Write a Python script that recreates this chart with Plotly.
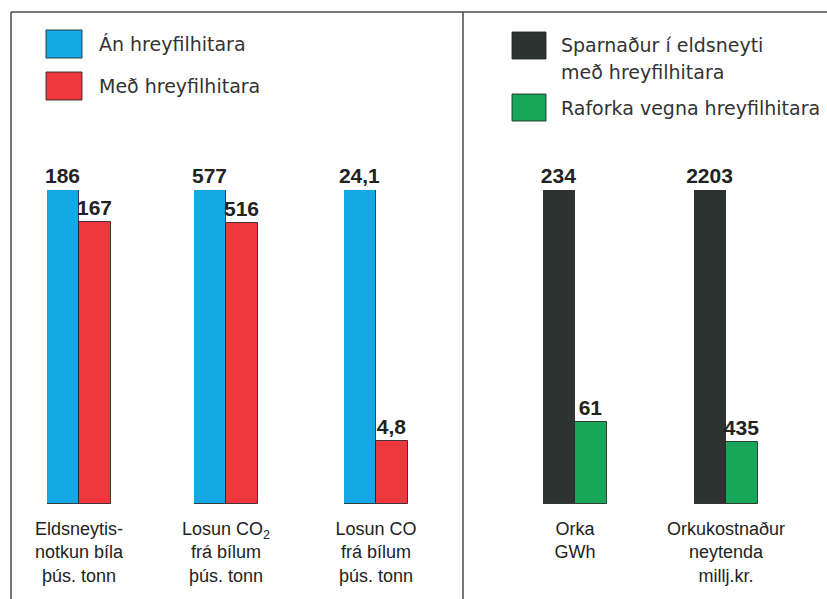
import plotly.graph_objects as go

# Data
categories = [
    "Eldsneytis-<br>notkun bíla<br>þús. tonn",
    "Losun CO<sub>2</sub><br>frá bílum<br>þús. tonn",
    "Losun CO<br>frá bílum<br>þús. tonn",
    "Orka<br>GWh",
    "Orkukostnaður<br>neytenda<br>millj.kr.",
]
an_hreyfilhitara = [186, 577, 24.1]
med_hreyfilhitara = [167, 516, 4.8]
sparnadur = [234, 2203]
raforka = [61, 435]

series_names = [
    "Án hreyfilhitara",
    "Með hreyfilhitara",
    "Sparnaður í eldsneyti<br>með hreyfilhitara",
    "Raforka vegna hreyfilhitara",
]

W, H = 827, 599
BLUE, RED, DARK, GREEN = "#14a8e6", "#ef383d", "#2d3331", "#17a65a"
EDGE = "rgba(35,35,35,0.85)"
TXT = "#222222"


def px(x):
    return x / W


def py(y):
    return 1 - y / H


# pixel spans of each bar pair, and the plotting band
group_spans = [(47, 111), (194, 258), (344, 408), (543, 607), (694, 758)]
bar_bottom, bar_top = 504, 190

pairs = [
    (an_hreyfilhitara[0], med_hreyfilhitara[0], BLUE, RED, 0, 1),
    (an_hreyfilhitara[1], med_hreyfilhitara[1], BLUE, RED, 0, 1),
    (an_hreyfilhitara[2], med_hreyfilhitara[2], BLUE, RED, 0, 1),
    (sparnadur[0], raforka[0], DARK, GREEN, 2, 3),
    (sparnadur[1], raforka[1], DARK, GREEN, 2, 3),
]


def fmt(v):
    return f"{v:g}".replace(".", ",")


fig = go.Figure()
layout = {}
for i, (v1, v2, c1, c2, n1, n2) in enumerate(pairs):
    sfx = "" if i == 0 else str(i + 1)
    for v, c, n in ((v1, c1, n1), (v2, c2, n2)):
        fig.add_trace(go.Bar(
            x=[categories[i]], y=[v], name=series_names[n],
            xaxis="x" + sfx, yaxis="y" + sfx,
            marker=dict(color=c, line=dict(color=EDGE, width=1)),
            text=[fmt(v)], textposition="outside", cliponaxis=False,
            constraintext="none",
            textfont=dict(family="Liberation Sans, Arial", size=21, color=TXT, weight="bold"),
            showlegend=False,
        ))
    x0, x1 = group_spans[i]
    layout["xaxis" + sfx] = dict(
        domain=[px(x0), px(x1)], anchor="y" + sfx, type="category",
        showgrid=False, zeroline=False, showline=False, ticks="",
        tickfont=dict(family="Liberation Sans, Arial", size=18, color=TXT),
        ticklabelstandoff=12, automargin=False,
    )
    layout["yaxis" + sfx] = dict(
        domain=[py(bar_bottom), py(bar_top)], anchor="x" + sfx,
        range=[0, max(v1, v2)], visible=False, automargin=False,
    )

fig.update_layout(**layout)

# Frame lines
line_style = dict(color="#4a4a4a", width=1.5)
shapes = [
    dict(type="line", xref="paper", yref="paper", x0=px(11), x1=1, y0=py(12), y1=py(12), line=line_style),
    dict(type="line", xref="paper", yref="paper", x0=px(11), x1=px(11), y0=py(12), y1=0, line=line_style),
    dict(type="line", xref="paper", yref="paper", x0=px(463), x1=px(463), y0=py(12), y1=0, line=line_style),
]

# Legend swatches and labels
legend_items = [
    (BLUE, (46, 30, 82, 58), 97, [(series_names[0], 44)]),
    (RED, (46, 72, 82, 100), 97, [(series_names[1], 86)]),
    (DARK, (512, 32, 546, 59), 559, [(t, y) for t, y in zip(series_names[2].split("<br>"), (45, 72))]),
    (GREEN, (512, 94, 546, 121), 559, [(series_names[3], 108)]),
]
annotations = []
for color, (a, b, c, d), tx, lines in legend_items:
    shapes.append(dict(type="rect", xref="paper", yref="paper",
                       x0=px(a), x1=px(c), y0=py(d), y1=py(b),
                       fillcolor=color, line=dict(color=EDGE, width=1)))
    for text, ty in lines:
        annotations.append(dict(xref="paper", yref="paper", x=px(tx), y=py(ty),
                                xanchor="left", yanchor="middle", showarrow=False,
                                text=text,
                                font=dict(family="DejaVu Sans", size=19, color="#333333")))

fig.update_layout(
    width=W, height=H, autosize=False,
    margin=dict(l=0, r=0, t=0, b=0, autoexpand=False),
    paper_bgcolor="white", plot_bgcolor="white",
    barmode="group", bargap=0, bargroupgap=0,
    shapes=shapes, annotations=annotations,
    showlegend=False,
)

fig.write_html("out.html")
